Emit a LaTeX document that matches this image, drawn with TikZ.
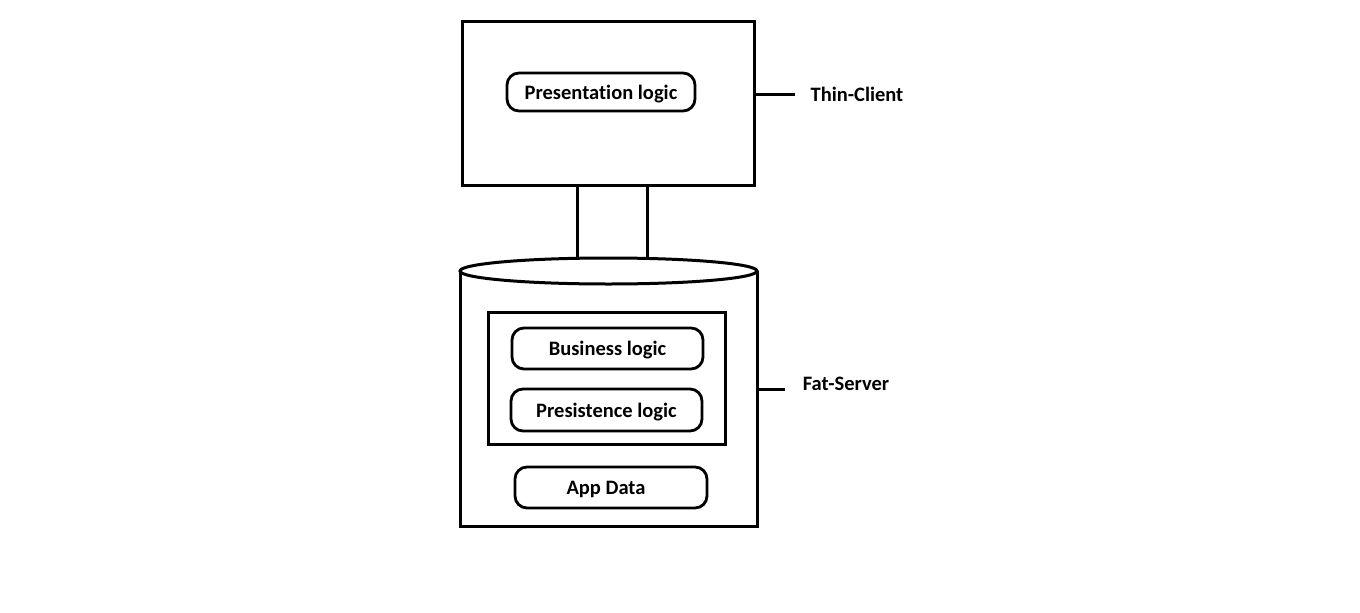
\documentclass[tikz,border=0pt]{standalone}
\usepackage{fontspec}
\setmainfont[Ligatures=NoCommon]{Carlito}
\begin{document}
\begin{tikzpicture}[x=1pt,y=-1pt,
  line width=3pt,
  pill/.style={draw,rounded corners=12pt,line width=2.8pt,font=\bfseries\fontsize{20.5}{24}\selectfont,inner sep=0pt,text depth=0pt},
  lbl/.style={font=\bfseries\fontsize{20.5}{24}\selectfont,inner sep=0pt}]
\useasboundingbox (0,0) rectangle (1360,613);
% client box
\node[draw,minimum width=292pt,minimum height=164pt,inner sep=0pt] (client) at (608,103) {};
\node[pill,minimum width=188pt,minimum height=38pt] (pres) at (601,92) {Presentation logic};
% pipes
\coordinate (p1) at (577,185);
\coordinate (p2) at (647,185);
\coordinate (q1) at (577,259);
\coordinate (q2) at (647,259);
\draw (p1) -- (q1);
\draw (p2) -- (q2);
% cylinder
\coordinate (cl) at (460,271);
\coordinate (cr) at (757,271);
\draw (cl) -- (460,526) -- (757,526) -- (cr);
\draw[fill=white] (608.5,271) ellipse [x radius=148.5, y radius=13];
% inner box
\node[draw,minimum width=237pt,minimum height=132pt,inner sep=0pt] (inner) at (606.5,378) {};
\node[pill,minimum width=191pt,minimum height=41pt] (bus) at (607.5,348.5) {Business logic};
\node[pill,minimum width=191pt,minimum height=42pt] (pers) at (606.5,410) {Presistence logic};
\node[pill,minimum width=192pt,minimum height=41pt] (app) at (611,487.5) {\hspace*{-10pt}App Data};
% labels
\node[lbl] (thin) at (857,94) {Thin-Client};
\node[lbl] (fat) at (846,384) {Fat-Server};
\draw (client.east |- 0,94) -- (795,94);
\draw (757,389) -- (785,389);
\end{tikzpicture}
\end{document}
